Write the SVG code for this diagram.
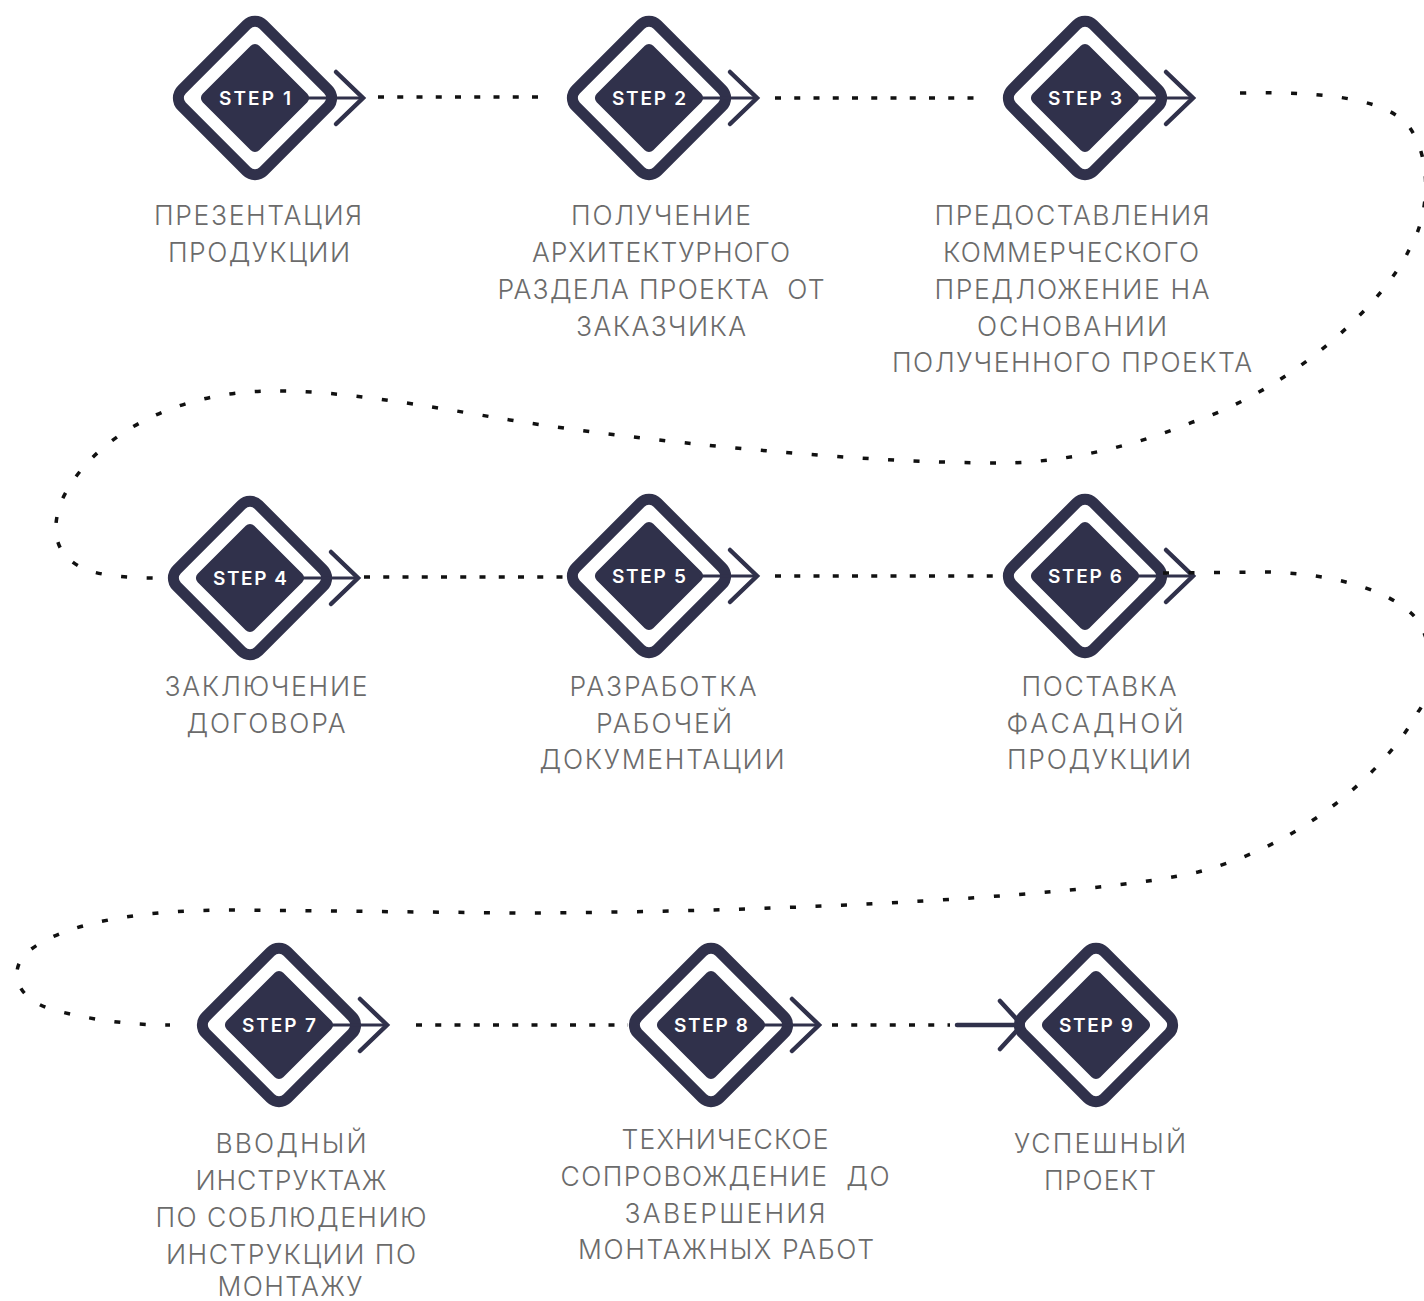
<svg xmlns="http://www.w3.org/2000/svg" width="1424" height="1301" viewBox="0 0 1424 1301">
<style>
.ring{fill:none;stroke:#30314b;stroke-width:11}
.core{fill:#30314b}
.stem{stroke:#30314b;stroke-width:3;fill:none}
.chev{stroke:#30314b;stroke-width:4.5;fill:none;stroke-linecap:round;stroke-linejoin:miter}
.st{font-family:Inter,"Open Sans",sans-serif;font-weight:600;font-size:19px;fill:#ffffff;text-anchor:middle}
.lb{font-family:Inter,"Open Sans",sans-serif;font-weight:300;font-size:26.5px;fill:#6b6b6b;text-anchor:middle;white-space:pre}
.dot{fill:none;stroke:#111111;stroke-width:3.5}
.ds{stroke-dasharray:6 13.25}
.dc{stroke-dasharray:6 19.5}
</style>
<defs>
<g id="dia"><rect class="ring" x="-57.7" y="-57.7" width="115.4" height="115.4" rx="12" transform="rotate(45)"/><rect class="core" x="-40" y="-40" width="80" height="80" rx="6" transform="rotate(45)"/></g>
<g id="arr"><path class="stem" d="M50,0H107"/><path class="chev" d="M81,-26L108,0L81,26"/></g>
</defs>

<g id="step1">
<use href="#dia" x="255" y="98"/><use href="#arr" x="255" y="98"/>
<text class="st" x="255" y="105" textLength="72">STEP 1</text>
<text class="lb" x="258" y="225" textLength="208">ПРЕЗЕНТАЦИЯ</text>
<text class="lb" x="259" y="262" textLength="182">ПРОДУКЦИИ</text>
</g>
<g id="step2">
<use href="#dia" x="649" y="98"/><use href="#arr" x="649" y="98"/>
<text class="st" x="649" y="105" textLength="74">STEP 2</text>
<text class="lb" x="661" y="225" textLength="180">ПОЛУЧЕНИЕ</text>
<text class="lb" x="661" y="262" textLength="258">АРХИТЕКТУРНОГО</text>
<text class="lb" x="661" y="299" textLength="327">РАЗДЕЛА ПРОЕКТА  ОТ</text>
<text class="lb" x="661" y="336" textLength="170">ЗАКАЗЧИКА</text>
</g>
<g id="step3">
<use href="#dia" x="1085" y="98"/><use href="#arr" x="1085" y="98"/>
<text class="st" x="1085" y="105" textLength="74">STEP 3</text>
<text class="lb" x="1072" y="225" textLength="275">ПРЕДОСТАВЛЕНИЯ</text>
<text class="lb" x="1071" y="262" textLength="256">КОММЕРЧЕСКОГО</text>
<text class="lb" x="1072" y="299" textLength="275">ПРЕДЛОЖЕНИЕ НА</text>
<text class="lb" x="1072" y="336" textLength="190">ОСНОВАНИИ</text>
<text class="lb" x="1072" y="372" textLength="360">ПОЛУЧЕННОГО ПРОЕКТА</text>
</g>
<g id="step4">
<use href="#dia" x="250" y="578"/><use href="#arr" x="250" y="578"/>
<text class="st" x="250" y="585" textLength="74">STEP 4</text>
<text class="lb" x="266" y="696" textLength="203">ЗАКЛЮЧЕНИЕ</text>
<text class="lb" x="266" y="733" textLength="159">ДОГОВОРА</text>
</g>
<g id="step5">
<use href="#dia" x="649" y="576"/><use href="#arr" x="649" y="576"/>
<text class="st" x="649" y="583" textLength="74">STEP 5</text>
<text class="lb" x="663" y="696" textLength="187">РАЗРАБОТКА</text>
<text class="lb" x="664" y="733" textLength="136">РАБОЧЕЙ</text>
<text class="lb" x="662" y="769" textLength="245">ДОКУМЕНТАЦИИ</text>
</g>
<g id="step6">
<use href="#dia" x="1085" y="576"/><use href="#arr" x="1085" y="576"/>
<text class="st" x="1085" y="583" textLength="74">STEP 6</text>
<text class="lb" x="1099" y="696" textLength="155">ПОСТАВКА</text>
<text class="lb" x="1095" y="733" textLength="177">ФАСАДНОЙ</text>
<text class="lb" x="1099" y="769" textLength="184">ПРОДУКЦИИ</text>
</g>
<g id="step7">
<use href="#dia" x="279" y="1025"/><use href="#arr" x="279" y="1025"/>
<text class="st" x="279" y="1032" textLength="74">STEP 7</text>
<text class="lb" x="291" y="1153" textLength="151">ВВОДНЫЙ</text>
<text class="lb" x="291" y="1190" textLength="191">ИНСТРУКТАЖ</text>
<text class="lb" x="291" y="1227" textLength="271">ПО СОБЛЮДЕНИЮ</text>
<text class="lb" x="291" y="1264" textLength="250">ИНСТРУКЦИИ ПО</text>
<text class="lb" x="290" y="1296" textLength="145">МОНТАЖУ</text>
</g>
<g id="step8">
<use href="#dia" x="711" y="1025"/><use href="#arr" x="711" y="1025"/>
<text class="st" x="711" y="1032" textLength="74">STEP 8</text>
<text class="lb" x="725" y="1149" textLength="207">ТЕХНИЧЕСКОЕ</text>
<text class="lb" x="725" y="1186" textLength="329">СОПРОВОЖДЕНИЕ  ДО</text>
<text class="lb" x="725" y="1223" textLength="201">ЗАВЕРШЕНИЯ</text>
<text class="lb" x="726" y="1259" textLength="296">МОНТАЖНЫХ РАБОТ</text>
</g>
<g id="step9">
<use href="#dia" x="1096" y="1025"/>
<text class="st" x="1096" y="1032" textLength="74">STEP 9</text>
<text class="lb" x="1100" y="1153" textLength="172">УСПЕШНЫЙ</text>
<text class="lb" x="1100" y="1190" textLength="112">ПРОЕКТ</text>
</g>

<g id="connectors">
<path class="dot ds" d="M378,97H538"/>
<path class="dot ds" d="M775,98H975"/>
<path class="dot dc" d="M1240,93C1330,91 1390,100 1410,128C1432,160 1430,215 1409,250C1385,300 1300,385 1193,422C1130,448 1060,463 1000,463C850,463 640,440 522,422C420,405 340,390 270,391C170,392 90,440 62,500C48,535 58,560 90,571C110,577 135,578 158,578"/>
<path class="dot ds" d="M364,577H566"/>
<path class="dot ds" d="M775,576H998"/>
<path class="dot dc" d="M1163,573L1267,572C1320,573 1380,585 1411,613C1433,633 1438,685 1418,712C1395,755 1320,840 1198,872C1100,895 800,912 520,913L230,910C150,910 70,920 30,950C10,965 10,995 50,1009C90,1020 130,1025 170,1025"/>
<path class="dot ds" d="M416,1025H628"/>
<path class="dot ds" d="M832,1025H950"/>
<path class="stem" style="stroke-width:4.5;stroke-linecap:round" d="M957,1025H1018"/>
<path class="chev" d="M1000,1001L1022,1025L1000,1049"/>
</g>
</svg>
